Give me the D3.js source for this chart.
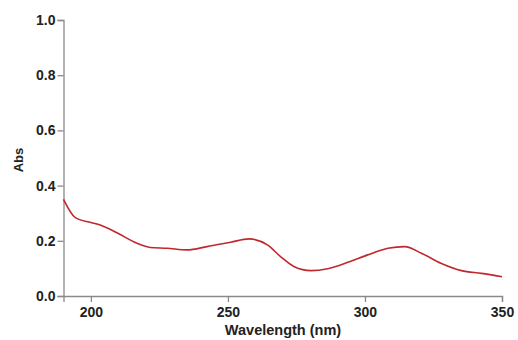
<!DOCTYPE html>
<html>
<head>
<meta charset="utf-8">
<script src="https://cdn.jsdelivr.net/npm/d3@7"></script>
<style>
  html, body { margin: 0; padding: 0; background: #fff; }
  svg { display: block; font-family: "Liberation Sans", Arial, sans-serif; }
</style>
</head>
<body>
<svg id="chart" width="518" height="340"></svg>
<script>
// Absorbance spectrum (wavelength in nm, absorbance)
const wavelengths = [190, 194.2, 200, 203.4, 209.5, 216.8, 221.7, 227.8, 235.1, 242.4, 251, 257.7, 264.4, 269.3, 274.2, 280.3, 286.4, 293.7, 301, 308.4, 314.5, 320.6, 327.9, 335.2, 342.5, 350];
const absorbance  = [0.350, 0.285, 0.266, 0.257, 0.229, 0.191, 0.176, 0.173, 0.167, 0.179, 0.195, 0.207, 0.185, 0.142, 0.106, 0.092, 0.099, 0.122, 0.149, 0.173, 0.179, 0.155, 0.118, 0.092, 0.082, 0.070];
const xTicks = [200, 250, 300, 350];
const yTicks = [0.0, 0.2, 0.4, 0.6, 0.8, 1.0];

const svg = d3.select("#chart");
const left = 63.5;

const x = d3.scaleLinear().domain([190, 350]).range([left, 502]);
const y = d3.scaleLinear().domain([0, 1]).range([296, 20]);

const axisColor = "#8a8a8a";
const textColor = "#222";
const font = "'Liberation Sans', Arial, sans-serif";

const gx = svg.append("g").attr("transform", `translate(0,${y(0)})`)
  .call(d3.axisBottom(x).tickValues(xTicks).tickSize(6).tickPadding(5).tickFormat(d3.format("d")));
const gy = svg.append("g").attr("transform", `translate(${left},0)`)
  .call(d3.axisLeft(y).tickValues(yTicks).tickSize(6).tickPadding(2).tickFormat(d3.format(".1f")));

[gx, gy].forEach(g => {
  g.select(".domain").attr("stroke", axisColor).attr("stroke-width", 1.3);
  g.selectAll(".tick line").attr("stroke", axisColor).attr("stroke-width", 1.3);
  g.selectAll(".tick text").attr("fill", textColor)
    .style("font-size", "14px").style("font-weight", "bold")
    .style("font-family", font);
});

svg.append("text")
  .attr("x", 283)
  .attr("y", 335)
  .attr("text-anchor", "middle")
  .attr("fill", textColor)
  .style("font-size", "14.5px").style("font-weight", "bold")
  .style("font-family", font)
  .text("Wavelength (nm)");

svg.append("text")
  .attr("transform", `translate(23,${y(0.5) + 2}) rotate(-90)`)
  .attr("text-anchor", "middle")
  .attr("fill", textColor)
  .style("font-size", "13px").style("font-weight", "bold")
  .style("font-family", font)
  .text("Abs");

const pts = wavelengths.map((w, i) => [w, absorbance[i]]);
const line = d3.line().x(d => x(d[0])).y(d => y(d[1])).curve(d3.curveMonotoneX);

svg.append("path")
  .datum(pts)
  .attr("d", line)
  .attr("fill", "none")
  .attr("stroke", "#c1272d")
  .attr("stroke-width", 1.6);
</script>
</body>
</html>
